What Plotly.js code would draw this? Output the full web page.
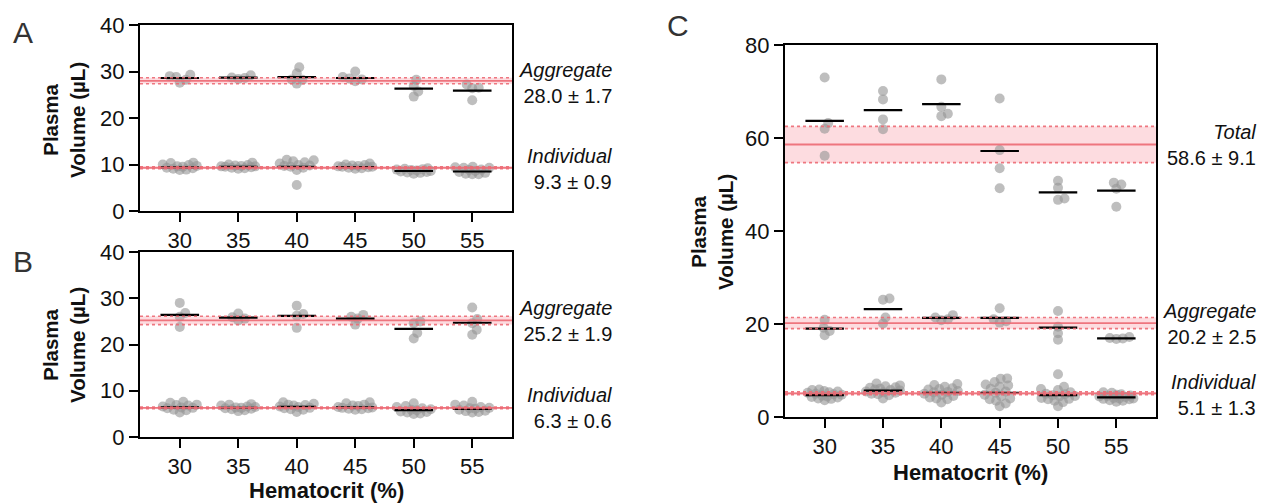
<!DOCTYPE html>
<html>
<head>
<meta charset="utf-8">
<script src="https://cdn.plot.ly/plotly-3.0.1.min.js"></script>
<style>html,body{margin:0;padding:0;background:#fff}#chart{width:1262px;height:504px}</style>
</head>
<body>
<div id="chart"></div>
<script>
// ---------------- DATA ----------------
const categories = ['30', '35', '40', '45', '50', '55'];

// Panel A
const aAggPoints = [
  [29.3, 28.8, 28.2, 27.6, 29.0],
  [29.2, 28.6, 28.4, 28.7],
  [30.9, 29.6, 28.2, 27.4, 28.3],
  [30.0, 28.8, 28.3, 27.9, 28.5],
  [28.2, 26.9, 25.7, 24.6],
  [27.2, 26.5, 26.4, 23.8]
];
const aAggMeans = [28.6, 28.7, 28.8, 28.6, 26.3, 25.9];
const aIndPoints = [
  [9.5, 10.0, 9.2, 10.3, 8.8, 9.6, 9.9, 9.1, 10.4, 9.3, 8.9, 9.7],
  [9.6, 10.0, 9.3, 10.4, 9.5, 9.8, 9.2, 9.4, 9.7, 9.1, 9.9, 9.6],
  [10.7, 9.8, 11.0, 10.2, 9.5, 10.9, 8.8, 9.9, 5.6, 10.5, 9.3, 9.7],
  [9.8, 10.2, 9.5, 9.3, 10.0, 9.4, 9.6, 9.1, 9.9, 9.5, 9.2, 9.7],
  [9.1, 8.5, 8.9, 8.2, 9.2, 8.4, 8.7, 8.0, 8.8, 8.3, 9.0, 8.6],
  [9.5, 8.6, 9.3, 7.9, 8.9, 8.2, 9.4, 8.0, 8.8, 7.9, 9.3, 8.4]
];
const aIndMeans = [9.4, 9.5, 9.5, 9.45, 8.6, 8.5];
const aAggMean = 28.0, aAggSD = 1.7, aAggCI = 0.65;
const aIndMean = 9.3, aIndSD = 0.9, aIndCI = 0.2;

// Panel B
const bAggPoints = [
  [29.0, 26.8, 26.0, 23.8],
  [26.7, 25.6, 25.2, 25.9],
  [28.4, 26.6, 26.2, 23.6],
  [26.4, 26.0, 25.6, 24.3],
  [25.0, 24.6, 22.5, 21.3],
  [28.0, 25.5, 24.6, 23.2, 22.1]
];
const bAggMeans = [26.4, 25.8, 26.2, 25.6, 23.4, 24.7];
const bIndPoints = [
  [6.6, 7.4, 5.9, 6.9, 5.3, 7.6, 6.2, 6.4, 6.8, 5.8, 7.0, 6.3],
  [6.2, 7.0, 5.8, 6.5, 6.0, 6.8, 5.6, 6.4, 6.6, 6.1, 7.1, 6.3],
  [6.6, 7.5, 5.4, 6.9, 6.2, 7.2, 5.9, 6.5, 6.8, 6.0, 7.0, 6.3],
  [6.5, 7.3, 6.0, 6.8, 6.2, 7.0, 5.9, 6.4, 6.7, 6.1, 7.5, 6.3],
  [5.8, 6.5, 5.1, 7.3, 5.4, 6.2, 5.0, 5.9, 6.7, 5.3, 6.0, 5.5],
  [6.1, 7.6, 5.4, 6.8, 5.7, 6.5, 5.3, 6.3, 7.0, 5.6, 6.2, 5.9]
];
const bIndMeans = [6.4, 6.3, 6.5, 6.4, 5.8, 6.05];
const bAggMean = 25.2, bAggSD = 1.9, bAggCI = 0.9;
const bIndMean = 6.3, bIndSD = 0.6, bIndCI = 0.2;

// Panel C
const cTotPoints = [
  [73.0, 63.2, 62.0, 56.2],
  [70.1, 68.3, 64.0, 61.9],
  [72.6, 66.7, 65.2, 64.7],
  [68.5, 57.4, 53.5, 49.2],
  [50.8, 49.3, 47.0, 46.7],
  [50.4, 50.0, 49.1, 45.2]
];
const cTotMeans = [63.7, 66.0, 67.3, 57.2, 48.3, 48.7];
const cAggPoints = [
  [20.9, 19.2, 18.5, 17.6],
  [25.5, 25.2, 21.4, 20.1],
  [21.9, 21.0, 20.8, 21.4],
  [23.4, 21.0, 20.6, 20.3],
  [22.8, 19.4, 18.0, 16.6],
  [17.0, 17.2, 16.8, 16.9]
];
const cAggMeans = [19.0, 23.2, 21.3, 21.3, 19.2, 16.9];
const cIndPoints = [
  [4.8, 5.6, 4.0, 5.9, 3.6, 5.2, 4.3, 4.9, 5.5, 3.9, 4.6, 5.8, 4.2, 5.0, 4.4, 5.3],
  [5.8, 6.8, 4.9, 7.2, 5.2, 6.3, 4.0, 5.5, 6.6, 4.7, 5.9, 6.1, 5.0, 6.4, 5.3, 5.7],
  [5.3, 6.9, 4.2, 7.1, 3.1, 6.2, 4.8, 5.6, 6.5, 4.0, 5.0, 5.9, 4.5, 6.0, 3.8, 5.4],
  [8.2, 7.5, 8.3, 4.0, 6.8, 2.3, 5.5, 3.8, 7.0, 4.8, 6.1, 3.5, 5.2, 2.9, 6.5, 4.4],
  [4.9, 9.2, 6.0, 3.8, 5.8, 2.3, 4.4, 5.3, 3.5, 4.1, 5.0, 6.5, 3.2, 4.7, 4.5, 3.9],
  [4.3, 5.2, 3.6, 4.9, 3.3, 4.6, 4.0, 5.3, 3.8, 4.5, 3.5, 4.8, 4.1, 3.9, 4.4, 4.0]
];
const cIndMeans = [4.7, 5.66, 5.2, 5.2, 4.7, 4.2];
const cTotMean = 58.6, cTotSD = 9.1, cTotCI = 3.9;
const cAggMean = 20.2, cAggSD = 2.5, cAggCI = 1.2;
const cIndMean = 5.1, cIndSD = 1.3, cIndCI = 0.3;

// ---------------- LAYOUT HELPERS ----------------
const W = 1262, H = 504;
const FONT = 'Arial, "Liberation Sans", Helvetica, sans-serif';
const XR = [-0.68, 5.68];

// pixel boxes [left, right, top, bottom]
const boxA = [140, 512, 25, 211];
const boxB = [140, 512, 252, 437];
const boxC = [785, 1156, 45, 417];

function dom(box) {
  return {x: [box[0] / W, box[1] / W], y: [1 - box[3] / H, 1 - box[2] / H]};
}

// simple beeswarm layout in pixel space, limited to the mean-bar width
function swarm(values, center, pxX, pxY, D, maxOff) {
  const order = values.map((v, i) => i).sort((a, b) => values[a] - values[b]);
  const placed = [];
  const xs = new Array(values.length);
  for (const i of order) {
    const y = values[i] * pxY;
    let best = 0, bestScore = -1, found = false;
    for (let k = 0; ; k++) {
      const off = (k % 2 === 1 ? 1 : -1) * Math.ceil(k / 2) * 0.5;
      if (Math.abs(off) > maxOff) break;
      let minD = Infinity;
      placed.forEach(p => { minD = Math.min(minD, Math.hypot(p.x - off, p.y - y)); });
      if (minD >= D) { best = off; found = true; break; }
      if (minD > bestScore) { bestScore = minD; best = off; }
    }
    placed.push({x: best, y});
    xs[i] = center + best / pxX;
  }
  return xs;
}

const traces = [];
const shapes = [];

function addGroup(points, means, box, yr, xa, ya) {
  const pxX = (box[1] - box[0]) / (XR[1] - XR[0]);
  const pxY = (box[3] - box[2]) / (yr[1] - yr[0]);
  const xs = [], ys = [];
  points.forEach((vals, ci) => {
    const sx = swarm(vals, ci, pxX, pxY, 6.5, 17);
    vals.forEach((v, j) => { xs.push(sx[j]); ys.push(v); });
  });
  traces.push({
    type: 'scatter', mode: 'markers', x: xs, y: ys, xaxis: xa, yaxis: ya,
    marker: {size: 10, color: 'rgba(150,150,150,0.62)', line: {width: 0}},
    hoverinfo: 'y'
  });
  means.forEach((m, ci) => {
    traces.push({
      type: 'scatter', mode: 'lines', x: [ci - 0.33, ci + 0.33], y: [m, m],
      xaxis: xa, yaxis: ya, line: {color: '#000', width: 2.2}, hoverinfo: 'skip'
    });
  });
}

function addBand(mean, ci, xa, ya) {
  const xref = xa + ' domain';
  const red = 'rgba(236,105,115,0.9)';
  shapes.push({type: 'rect', xref, yref: ya, x0: 0, x1: 1, y0: mean - ci, y1: mean + ci,
    fillcolor: 'rgba(250,150,160,0.33)', line: {width: 0}, layer: 'below'});
  shapes.push({type: 'line', xref, yref: ya, x0: 0, x1: 1, y0: mean - ci, y1: mean - ci,
    line: {color: red, width: 1.6, dash: 'dot'}, layer: 'above'});
  shapes.push({type: 'line', xref, yref: ya, x0: 0, x1: 1, y0: mean + ci, y1: mean + ci,
    line: {color: red, width: 1.6, dash: 'dot'}, layer: 'above'});
  shapes.push({type: 'line', xref, yref: ya, x0: 0, x1: 1, y0: mean, y1: mean,
    line: {color: red, width: 1.8}, layer: 'above'});
}

addBand(aAggMean, aAggCI, 'x', 'y');
addBand(aIndMean, aIndCI, 'x', 'y');
addBand(bAggMean, bAggCI, 'x2', 'y2');
addBand(bIndMean, bIndCI, 'x2', 'y2');
addBand(cTotMean, cTotCI, 'x3', 'y3');
addBand(cAggMean, cAggCI, 'x3', 'y3');
addBand(cIndMean, cIndCI, 'x3', 'y3');

addGroup(aAggPoints, aAggMeans, boxA, [0, 40], 'x', 'y');
addGroup(aIndPoints, aIndMeans, boxA, [0, 40], 'x', 'y');
addGroup(bAggPoints, bAggMeans, boxB, [0, 40], 'x2', 'y2');
addGroup(bIndPoints, bIndMeans, boxB, [0, 40], 'x2', 'y2');
addGroup(cTotPoints, cTotMeans, boxC, [0, 80], 'x3', 'y3');
addGroup(cAggPoints, cAggMeans, boxC, [0, 80], 'x3', 'y3');
addGroup(cIndPoints, cIndMeans, boxC, [0, 80], 'x3', 'y3');

const TICKFONT = {family: FONT, size: 22, color: '#111'};
function xaxis(box, anchor) {
  return {
    domain: dom(box).x, anchor, range: XR, tickvals: [0, 1, 2, 3, 4, 5], ticktext: categories,
    showline: true, linecolor: '#000', linewidth: 2, mirror: true,
    ticks: 'outside', ticklen: 9, tickwidth: 2, tickcolor: '#000',
    showgrid: false, zeroline: false, tickfont: TICKFONT, fixedrange: true
  };
}
function yaxis(box, anchor, yr, tv) {
  return {
    domain: dom(box).y, anchor, range: yr, tickvals: tv,
    showline: true, linecolor: '#000', linewidth: 2, mirror: true,
    ticks: 'outside', ticklen: 9, tickwidth: 2, tickcolor: '#000',
    showgrid: false, zeroline: false, tickfont: TICKFONT, fixedrange: true
  };
}

function ann(text, px, py, opts) {
  return Object.assign({
    text, x: px / W, y: 1 - py / H, xref: 'paper', yref: 'paper', showarrow: false,
    xanchor: 'center', yanchor: 'middle',
    font: {family: FONT, size: 20, color: '#111'}
  }, opts || {});
}

const LETTER = {family: FONT, size: 30, color: '#333'};
const TITLE = {family: FONT, size: 20.5, color: '#111'};
const XTITLE = {family: FONT, size: 22, color: '#111'};
const annotations = [
  ann('A', 23, 33, {font: LETTER}),
  ann('B', 23, 261, {font: LETTER}),
  ann('C', 678, 25, {font: LETTER}),
  ann('<b>Plasma</b><br><b>Volume (µL)</b>', 64, 120, {textangle: -90, font: TITLE}),
  ann('<b>Plasma</b><br><b>Volume (µL)</b>', 64, 345, {textangle: -90, font: TITLE}),
  ann('<b>Plasma</b><br><b>Volume (µL)</b>', 712, 232, {textangle: -90, font: TITLE}),
  ann('<b>Hematocrit (%)</b>', 326, 490, {font: XTITLE}),
  ann('<b>Hematocrit (%)</b>', 970, 472, {font: XTITLE}),
  ann('<i>Aggregate</i><br>' + aAggMean.toFixed(1) + ' ± ' + aAggSD.toFixed(1), 614, 83, {xanchor: 'right', align: 'right'}),
  ann('<i>Individual</i><br>' + aIndMean.toFixed(1) + ' ± ' + aIndSD.toFixed(1), 614, 169, {xanchor: 'right', align: 'right'}),
  ann('<i>Aggregate</i><br>' + bAggMean.toFixed(1) + ' ± ' + bAggSD.toFixed(1), 614, 321, {xanchor: 'right', align: 'right'}),
  ann('<i>Individual</i><br>' + bIndMean.toFixed(1) + ' ± ' + bIndSD.toFixed(1), 614, 408, {xanchor: 'right', align: 'right'}),
  ann('<i>Total</i><br>' + cTotMean.toFixed(1) + ' ± ' + cTotSD.toFixed(1), 1258, 145, {xanchor: 'right', align: 'right'}),
  ann('<i>Aggregate</i><br>' + cAggMean.toFixed(1) + ' ± ' + cAggSD.toFixed(1), 1258, 324, {xanchor: 'right', align: 'right'}),
  ann('<i>Individual</i><br>' + cIndMean.toFixed(1) + ' ± ' + cIndSD.toFixed(1), 1258, 395, {xanchor: 'right', align: 'right'})
];

const layout = {
  width: W, height: H, margin: {l: 0, r: 0, t: 0, b: 0},
  paper_bgcolor: '#fff', plot_bgcolor: 'rgba(0,0,0,0)', showlegend: false,
  font: {family: FONT, color: '#111'},
  xaxis: xaxis(boxA, 'y'), yaxis: yaxis(boxA, 'x', [0, 40], [0, 10, 20, 30, 40]),
  xaxis2: xaxis(boxB, 'y2'), yaxis2: yaxis(boxB, 'x2', [0, 40], [0, 10, 20, 30, 40]),
  xaxis3: xaxis(boxC, 'y3'), yaxis3: yaxis(boxC, 'x3', [0, 80], [0, 20, 40, 60, 80]),
  shapes, annotations
};

Plotly.newPlot('chart', traces, layout, {staticPlot: true, displayModeBar: false});
</script>
</body>
</html>
